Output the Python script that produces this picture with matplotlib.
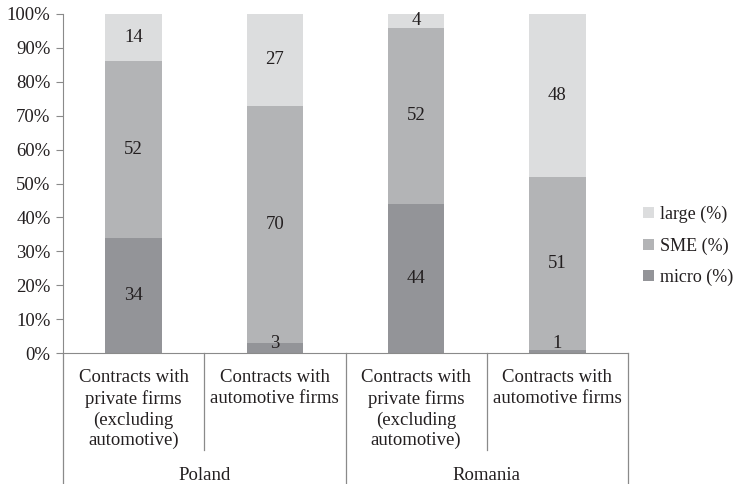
import numpy as np
import matplotlib
matplotlib.use('Agg')
from matplotlib import pyplot as plt
import matplotlib.transforms as mtransforms

#------------------------------------------------------------
# data (shares in %)
categories = ['Contracts with\nprivate firms\n(excluding\nautomotive)',
              'Contracts with\nautomotive firms',
              'Contracts with\nprivate firms\n(excluding\nautomotive)',
              'Contracts with\nautomotive firms']
countries = ['Poland', 'Romania']
micro = [34, 3, 44, 1]
sme = [52, 70, 52, 51]
large = [14, 27, 4, 48]
series_names = ['micro (%)', 'SME (%)', 'large (%)']
colours = ['#939498', '#b3b4b6', '#dcddde']
yticks = np.arange(0, 101, 10)

plt.rcParams['font.family'] = ['Liberation Serif', 'DejaVu Serif']
plt.rcParams['font.size'] = 13.5
txt = '#231f20'
axcol = '#8a8a8a'

#------------------------------------------------------------
fig = plt.figure(figsize=(7.38, 4.84), dpi=100)
ax = fig.add_axes([63 / 738, 1 - 353 / 484, 565 / 738, 339 / 484])

x = np.arange(len(categories)) + 0.5
bottom = np.zeros(len(categories))
bars = []
for vals, name, col in zip([micro, sme, large], series_names, colours):
    vals = np.array(vals, dtype=float)
    b = ax.bar(x, vals, width=0.4, bottom=bottom, color=col, label=name)
    bars.append(b)
    for xi, v, b0 in zip(x, vals, bottom):
        # labels of very thin segments sit just above the axis
        yc = max(b0 + v / 2, 2.7)
        ax.text(xi, yc, '%d' % v, ha='center', va='center', color=txt)
    bottom += vals

ax.set_xlim(0, 4)
ax.set_ylim(0, 100)
ax.set_yticks(yticks)
ax.set_yticklabels(['%d%%' % t for t in yticks], color=txt)
ax.set_xticks([])
for s in ['top', 'right']:
    ax.spines[s].set_visible(False)
ax.spines['left'].set_color(axcol)
ax.spines['bottom'].set_color(axcol)
ax.tick_params(axis='y', direction='out', length=5, color=axcol, pad=4)

# multi-level category axis
trans = mtransforms.blended_transform_factory(ax.transData, ax.transAxes)
outer = -(484 - 353) / 339
inner = -(450 - 353) / 339
for xb in [0, 2, 4]:
    ax.plot([xb, xb], [0, outer], color=axcol, lw=0.9, transform=trans, clip_on=False)
for xb in [1, 3]:
    ax.plot([xb, xb], [0, inner], color=axcol, lw=0.9, transform=trans, clip_on=False)
for xi, lab in zip(x, categories):
    ax.text(xi, -(369 - 353) / 339, lab, ha='center', va='top', linespacing=1.27,
            color=txt, transform=trans)
for i, c in enumerate(countries):
    ax.text(2 * i + 1, -(475 - 353) / 339, c, ha='center', va='center',
            color=txt, transform=trans)

leg = fig.legend(handles=bars[::-1], loc='center left',
                 bbox_to_anchor=(627 / 738, 1 - 246 / 484), frameon=False,
                 handlelength=0.58, handleheight=0.58, handletextpad=0.35,
                 labelspacing=0.78, fontsize=13, labelcolor=txt)

plt.savefig('out.png', dpi=100)
